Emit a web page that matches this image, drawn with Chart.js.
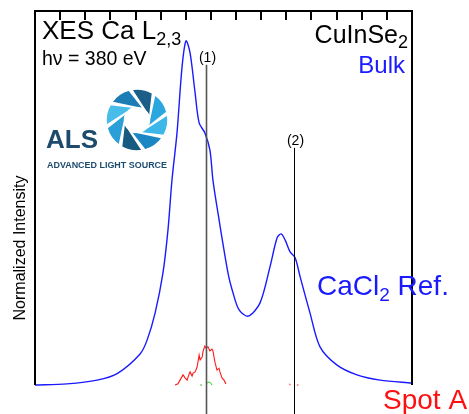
<!DOCTYPE html>
<html>
<head>
<meta charset="utf-8">
<script src="https://cdn.jsdelivr.net/npm/chart.js@4.4.1/dist/chart.umd.min.js"></script>
<style>
  html, body { margin:0; padding:0; background:#fff; }
  #wrap { width:469px; height:414px; }
</style>
</head>
<body>
<div id="wrap"><canvas id="xes" width="469" height="414"></canvas></div>
<script>
// emission energy (eV) and normalized intensity, CaCl2 reference
const bulkEnergy = [338.00,339.27,340.47,341.30,342.18,342.46,342.78,343.09,343.29,343.45,343.65,343.85,344.01,344.17,344.37,344.53,344.76,344.96,345.08,345.28,345.68,345.88,346.12,346.48,346.95,347.35,347.63,347.79,347.95,348.15,348.35,348.55,348.94,349.34,350.02,350.81,351.73,353.00]
const bulkIntensity = [0.000,0.003,0.013,0.032,0.083,0.120,0.193,0.299,0.414,0.548,0.674,0.850,0.920,0.888,0.781,0.701,0.674,0.628,0.548,0.460,0.299,0.246,0.201,0.184,0.219,0.316,0.393,0.404,0.388,0.356,0.340,0.289,0.193,0.102,0.053,0.027,0.013,0.005]

// Spot A, measured on the absorber
const spotEnergy = [343.57,343.69,343.77,343.89,343.97,344.05,344.13,344.17,344.25,344.29,344.37,344.45,344.53,344.57,344.65,344.69,344.76,344.80,344.88,344.96,345.04,345.08,345.16,345.24,345.32,345.36,345.44,345.52,345.60]
const spotIntensity = [0.000,0.003,0.013,0.027,0.019,0.013,0.029,0.035,0.024,0.032,0.035,0.048,0.080,0.067,0.075,0.091,0.104,0.099,0.102,0.091,0.096,0.091,0.061,0.040,0.045,0.035,0.019,0.013,0.003]
const spotEnergy2 = [348.11,348.17,null,348.42,348.48]
const spotIntensity2 = [0.003,0.000,null,0.000,0.000]

// second component near line (1)
const greenEnergy = [344.57,344.65,null,344.84,344.92,345.00,345.04]
const greenIntensity = [0.000,0.000,null,0.005,0.008,0.005,0.000]

// marker lines (1) and (2): position and top end
const markerLabels = ["(1)","(2)"]
const markerEnergy = [344.80, 348.31]
const markerTop = [0.856, 0.634]

const xTicks = [339,340,341,342,343,344,345,346,347,348,349,350,351,352]

const FONT = '"Liberation Sans", Arial, sans-serif'

function pts(xs, ys){
  return xs.map((x,i) => x === null ? {x:NaN, y:null} : {x:x, y:ys[i]})
}

// draws text pieces with subscripts: [text, size, baseline shift]
function richText(ctx, x, y, parts, color, align){
  ctx.save()
  ctx.fillStyle = color
  ctx.textBaseline = "alphabetic"
  ctx.textAlign = "left"
  let w = 0
  parts.forEach(p => { ctx.font = p[1]+"px "+FONT; w += ctx.measureText(p[0]).width })
  let cx = align === "right" ? x - w : x
  parts.forEach(p => {
    ctx.font = p[1]+"px "+FONT
    ctx.fillText(p[0], cx, y + (p[2]||0))
    cx += ctx.measureText(p[0]).width
  })
  ctx.restore()
}

function drawLogo(ctx){
  const cx = 137, cy = 120, ro = 31, ri = 12.5
  const colors = ["#1b5f88","#2ba7de","#3db6e8","#1a86c4","#175a80","#2a9fd8","#49bdea","#1c7db6"]
  const rad = d => d*Math.PI/180
  ctx.save()
  for(let k=0;k<8;k++){
    const a = -100 + k*45
    ctx.beginPath()
    ctx.arc(cx, cy, ro, rad(a), rad(a+40))
    ctx.lineTo(cx + ri*Math.cos(rad(a+95)), cy + ri*Math.sin(rad(a+95)))
    ctx.arc(cx, cy, ri, rad(a+95), rad(a+52), true)
    ctx.closePath()
    ctx.fillStyle = colors[k]
    ctx.fill()
    ctx.strokeStyle = "#fff"
    ctx.lineWidth = 1.5
    ctx.stroke()
  }
  ctx.fillStyle = "#1d4b6e"
  ctx.font = "bold 26px "+FONT
  ctx.textAlign = "left"
  ctx.fillText("ALS", 46, 148)
  ctx.font = "bold 9px "+FONT
  const t = "ADVANCED LIGHT SOURCE"
  const tw = ctx.measureText(t).width
  ctx.translate(47, 168)
  ctx.scale(120/tw, 1)
  ctx.fillText(t, 0, 0)
  ctx.restore()
}

// inward ticks along the top edge
const tickPlugin = {
  id:"topTicks",
  afterDatasetsDraw(chart){
    const ctx = chart.ctx
    const a = chart.chartArea
    const xs = chart.scales.x
    ctx.save()
    ctx.fillStyle = "#000"
    xTicks.forEach(v => {
      const px = Math.round(xs.getPixelForValue(v))
      ctx.fillRect(px - 1, a.top, 2, 9)
    })
    ctx.restore()
  }
}

const framePlugin = {
  id:"frame",
  afterDraw(chart){
    const ctx = chart.ctx
    const a = chart.chartArea
    const xs = chart.scales.x, ys = chart.scales.y
    ctx.save()

    // frame: left, top and right edges
    ctx.strokeStyle = "#000"
    ctx.lineWidth = 2
    ctx.beginPath()
    ctx.moveTo(a.left, a.bottom)
    ctx.lineTo(a.left, a.top)
    ctx.lineTo(a.right, a.top)
    ctx.lineTo(a.right, a.bottom)
    ctx.stroke()

    // marker lines run down past the plot area
    markerEnergy.forEach((e,i) => {
      const px = Math.round(xs.getPixelForValue(e)) + 0.5
      ctx.strokeStyle = i === 0 ? "#555" : "#000"
      ctx.lineWidth = i === 0 ? 1.6 : 1
      ctx.beginPath()
      ctx.moveTo(px, ys.getPixelForValue(markerTop[i]))
      ctx.lineTo(px, chart.height)
      ctx.stroke()
      ctx.fillStyle = "#000"
      ctx.font = "14px "+FONT
      ctx.textAlign = "center"
      ctx.fillText(markerLabels[i], px + 1, ys.getPixelForValue(markerTop[i]) - 3)
    })

    // axis title
    ctx.save()
    ctx.translate(25, 248)
    ctx.rotate(-Math.PI/2)
    ctx.fillStyle = "#000"
    ctx.font = "16px "+FONT
    ctx.textAlign = "center"
    ctx.fillText("Normalized Intensity", 0, 0)
    ctx.restore()

    drawLogo(ctx)

    richText(ctx, 42, 39, [["XES Ca L",26],["2,3",18,6]], "#000")
    richText(ctx, 42, 65, [["h\u03bd = 380 eV",19.5]], "#000")
    richText(ctx, 408, 43, [["CuInSe",25],["2",18,5]], "#000", "right")
    richText(ctx, 405, 73, [["Bulk",24]], "#1a1aff", "right")
    richText(ctx, 317, 295, [["CaCl",28],["2",19,6],[" Ref.",28]], "#1a1aff")
    richText(ctx, 383, 409, [["Spot A",28]], "#ff1010")

    // top ticks again over the frame line
    ctx.fillStyle = "#000"
    xTicks.forEach(v => {
      const px = Math.round(xs.getPixelForValue(v))
      ctx.fillRect(px - 1, a.top, 2, 9)
    })

    ctx.restore()
  }
}

new Chart(document.getElementById("xes"), {
  type:"line",
  data:{
    datasets:[
      { label:"CaCl2 Ref.", data:pts(bulkEnergy, bulkIntensity), borderColor:"#1a1aff", borderWidth:1.4, pointRadius:0, tension:0.3, fill:false },
      { label:"Spot A", data:pts(spotEnergy, spotIntensity), borderColor:"#ff1a1a", borderWidth:1.1, pointRadius:0, tension:0, fill:false },
      { label:"Spot A (2)", data:pts(spotEnergy2, spotIntensity2), borderColor:"#ff1a1a", borderWidth:1, pointRadius:0, spanGaps:false, fill:false },
      { label:"Spot A fit", data:pts(greenEnergy, greenIntensity), borderColor:"#22cc22", borderWidth:1, pointRadius:0, spanGaps:false, fill:false }
    ]
  },
  options:{
    responsive:false,
    animation:false,
    devicePixelRatio:1,
    layout:{ padding:{ left:35, right:57, top:11, bottom:29 } },
    plugins:{ legend:{ display:false }, tooltip:{ enabled:false } },
    scales:{
      x:{ type:"linear", min:338, max:353, display:false },
      y:{ min:0, max:1, display:false }
    },
    clip:false
  },
  plugins:[tickPlugin, framePlugin]
})
</script>
</body>
</html>
